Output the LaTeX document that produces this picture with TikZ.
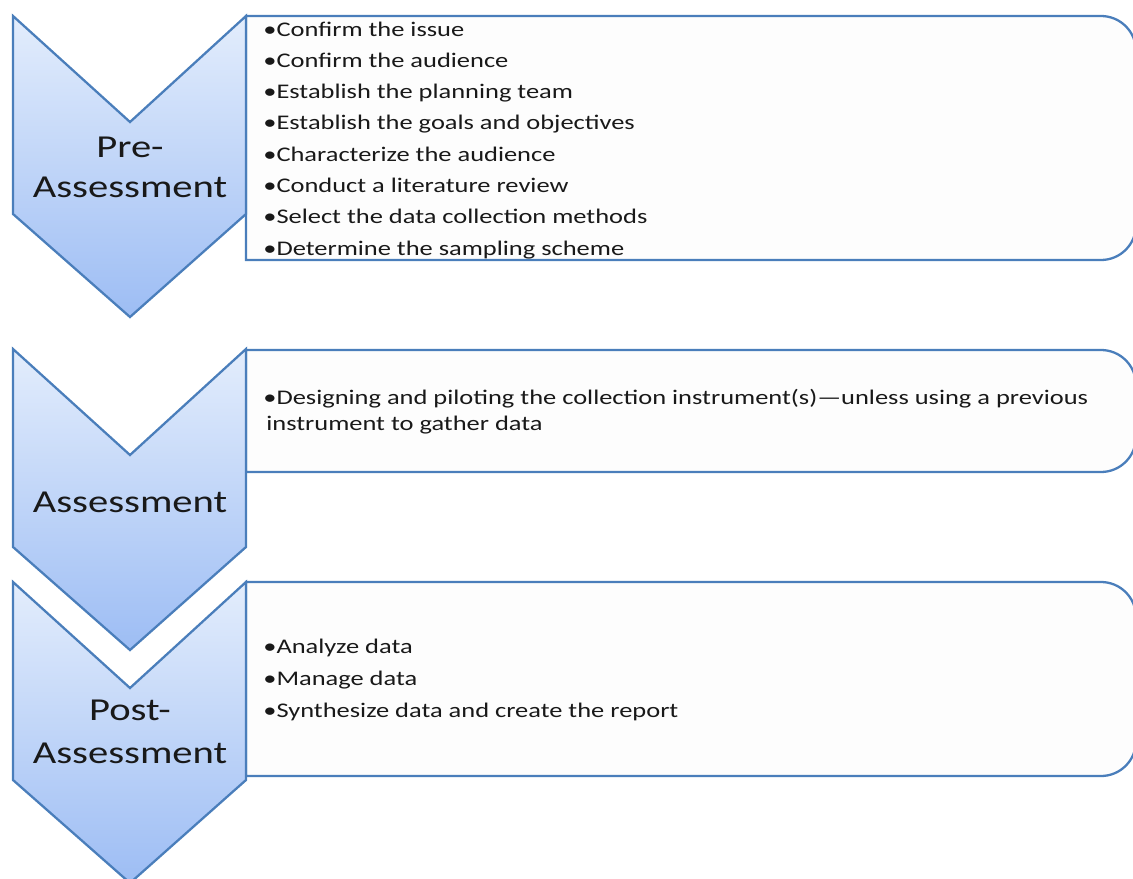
\documentclass[tikz,border=0pt]{standalone}
\usepackage{fontspec}
\setmainfont[FakeStretch=1.27]{Carlito}
\definecolor{Edge}{HTML}{4A7EBB}
\definecolor{ChevTop}{HTML}{E3EDFC}
\definecolor{ChevBot}{HTML}{9DBDF4}
\definecolor{PanelFill}{HTML}{FDFDFD}

\tikzset{
  chev/.style={draw=Edge, line width=1.3pt, line join=miter, top color=ChevTop, bottom color=ChevBot},
  panel/.style={draw=Edge, line width=1.3pt, fill=PanelFill},
  item/.style={anchor=base west, inner sep=0pt, font=\fontsize{11.85}{14}\selectfont, text=black!90},
  stage/.style={anchor=base, inner sep=0pt, font=\fontsize{18.2}{22}\selectfont, text=black!90},
}

\begin{document}
\begin{tikzpicture}[x=0.02cm, y=-0.02cm]
\useasboundingbox (0,0) rectangle (1133,879);
% panels (right corners rounded)
\draw[panel] (246,16) -- (900,16) [rounded corners=0.7cm] -- (1136,16) -- (1136,260) -- (900,260) [sharp corners] -- (246,260) -- cycle;
\draw[panel] (246,350) -- (900,350) [rounded corners=0.7cm] -- (1136,350) -- (1136,472) -- (900,472) [sharp corners] -- (246,472) -- cycle;
\draw[panel] (246,582) -- (900,582) [rounded corners=0.7cm] -- (1136,582) -- (1136,776) -- (900,776) [sharp corners] -- (246,776) -- cycle;
% chevrons
\foreach \t in {16,349,582}
  \draw[chev] (13,\t) -- (130,{\t+106}) -- (246,\t) -- (246,{\t+198}) -- (130,{\t+301}) -- (13,{\t+198}) -- cycle;
% stage names
\node[stage] (pre1) at (130,157) {Pre-};
\node[stage] (pre2) at (130,197) {Assessment};
\node[stage] (mid) at (130,512) {Assessment};
\node[stage] (post1) at (130,720) {Post-};
\node[stage] (post2) at (130,763) {Assessment};
% bullet items
\foreach \txt [count=\i] in {Confirm the issue, Confirm the audience, Establish the planning team,
    Establish the goals and objectives, Characterize the audience, Conduct a literature review,
    Select the data collection methods, Determine the sampling scheme}
  \node[item] (pre-\i) at (263,{36+31.3*(\i-1)}) {•\txt};
\node[item] (mid-1) at (263,404) {•Designing and piloting the collection instrument(s)—unless using a previous};
\node[item] (mid-2) at (266,430) {instrument to gather data};
\foreach \txt [count=\i] in {Analyze data, Manage data, Synthesize data and create the report}
  \node[item] (post-\i) at (263,{653+32*(\i-1)}) {•\txt};
\end{tikzpicture}
\end{document}
